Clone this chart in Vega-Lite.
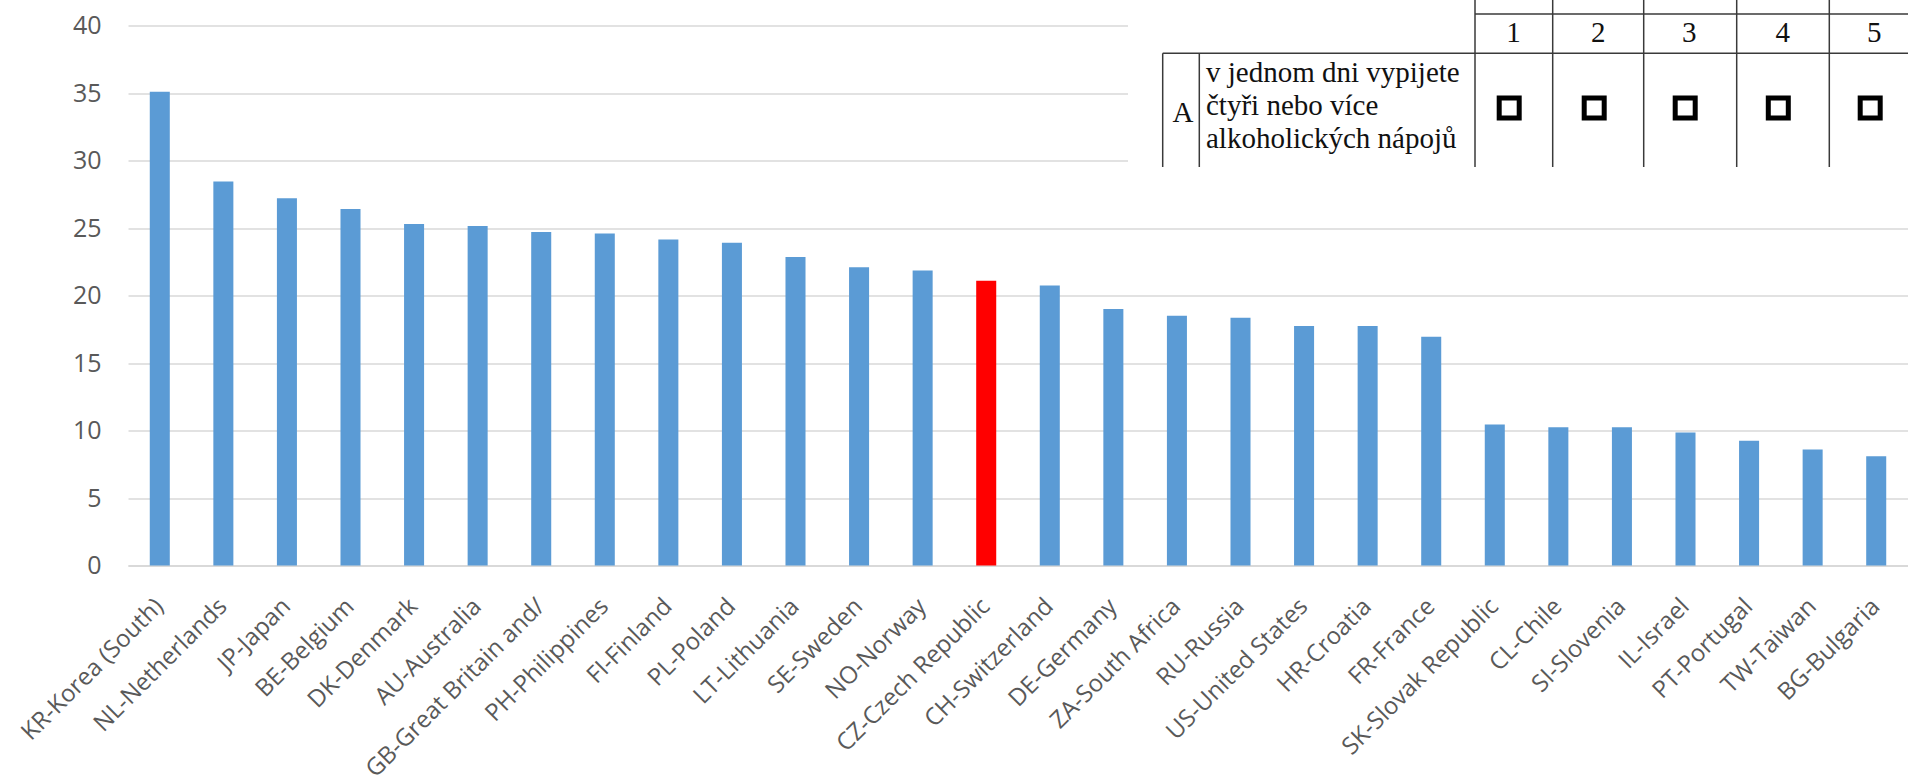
{
  "$schema": "https://vega.github.io/schema/vega-lite/v6.json",
  "width": 1780,
  "height": 540,
  "autosize": {"type": "none"},
  "padding": {"left": 128, "top": 25.5, "right": 0, "bottom": 210.5},
  "background": "white",
  "config": {"view": {"stroke": null}, "font": "Open Sans"},
  "datasets": {
    "countries": [
      {"country": "KR-Korea (South)", "value": 35.1},
      {"country": "NL-Netherlands", "value": 28.45},
      {"country": "JP-Japan", "value": 27.2},
      {"country": "BE-Belgium", "value": 26.4},
      {"country": "DK-Denmark", "value": 25.3},
      {"country": "AU-Australia", "value": 25.15},
      {"country": "GB-Great Britain and/", "value": 24.7},
      {"country": "PH-Philippines", "value": 24.6},
      {"country": "FI-Finland", "value": 24.15},
      {"country": "PL-Poland", "value": 23.9},
      {"country": "LT-Lithuania", "value": 22.85},
      {"country": "SE-Sweden", "value": 22.1},
      {"country": "NO-Norway", "value": 21.85},
      {"country": "CZ-Czech Republic", "value": 21.1},
      {"country": "CH-Switzerland", "value": 20.75},
      {"country": "DE-Germany", "value": 19.0},
      {"country": "ZA-South Africa", "value": 18.5},
      {"country": "RU-Russia", "value": 18.35},
      {"country": "US-United States", "value": 17.75},
      {"country": "HR-Croatia", "value": 17.75},
      {"country": "FR-France", "value": 16.95},
      {"country": "SK-Slovak Republic", "value": 10.45},
      {"country": "CL-Chile", "value": 10.25},
      {"country": "SI-Slovenia", "value": 10.25},
      {"country": "IL-Israel", "value": 9.85},
      {"country": "PT-Portugal", "value": 9.25},
      {"country": "TW-Taiwan", "value": 8.6},
      {"country": "BG-Bulgaria", "value": 8.1}
    ],
    "tableBox": [{"left": 1128, "right": 1908, "top": 0, "bottom": 167}],
    "tableRules": [
      {"x1": 1475, "x2": 1908, "y1": 14, "y2": 14},
      {"x1": 1162.7, "x2": 1908, "y1": 53.3, "y2": 53.3},
      {"x1": 1162.7, "x2": 1162.7, "y1": 53.3, "y2": 167},
      {"x1": 1199.3, "x2": 1199.3, "y1": 53.3, "y2": 167},
      {"x1": 1475, "x2": 1475, "y1": 0, "y2": 167},
      {"x1": 1552.7, "x2": 1552.7, "y1": 0, "y2": 167},
      {"x1": 1643.7, "x2": 1643.7, "y1": 0, "y2": 167},
      {"x1": 1736.7, "x2": 1736.7, "y1": 0, "y2": 167},
      {"x1": 1829.3, "x2": 1829.3, "y1": 0, "y2": 167}
    ],
    "tableHeader": [
      {"label": "1", "x": 1513.5, "y": 41.7},
      {"label": "2", "x": 1598.3, "y": 41.7},
      {"label": "3", "x": 1689.3, "y": 41.7},
      {"label": "4", "x": 1782.7, "y": 41.7},
      {"label": "5", "x": 1874.3, "y": 41.7}
    ],
    "tableLetter": [{"label": "A", "x": 1183, "y": 121.7}],
    "tableQuestion": [
      {"line": "v jednom dni vypijete", "x": 1206, "y": 81.5},
      {"line": "čtyři nebo více", "x": 1206, "y": 114.8},
      {"line": "alkoholických nápojů", "x": 1206, "y": 148}
    ],
    "tableBoxes": [
      {"option": 1, "x": 1509.2, "y": 108},
      {"option": 2, "x": 1594.2, "y": 108},
      {"option": 3, "x": 1685.2, "y": 108},
      {"option": 4, "x": 1778.3, "y": 108},
      {"option": 5, "x": 1870.2, "y": 108}
    ]
  },
  "layer": [
    {
      "data": {"name": "countries"},
      "mark": {"type": "bar"},
      "encoding": {
        "x": {
          "field": "country",
          "type": "nominal",
          "sort": null,
          "scale": {"paddingInner": 0.685, "paddingOuter": 0.3425},
          "axis": {
            "title": null,
            "ticks": false,
            "domain": true,
            "domainColor": "#D9D9D9",
            "domainWidth": 2,
            "grid": false,
            "labelAngle": -45,
            "labelAlign": "right",
            "labelBaseline": "middle",
            "labelPadding": 37,
            "labelFontSize": 24,
            "labelColor": "#595959",
            "labelLimit": 0,
            "labelFont": "Open Sans"
          }
        },
        "y": {
          "field": "value",
          "type": "quantitative",
          "scale": {"domain": [0, 40], "nice": false},
          "axis": {
            "title": null,
            "values": [0, 5, 10, 15, 20, 25, 30, 35, 40],
            "ticks": false,
            "domain": false,
            "grid": true,
            "gridColor": "#D9D9D9",
            "gridWidth": 1.5,
            "labelPadding": 27,
            "labelFontSize": 25,
            "labelColor": "#595959",
            "labelFont": "Open Sans"
          }
        },
        "color": {
          "condition": {"test": "datum.country === 'CZ-Czech Republic'", "value": "#FF0000"},
          "value": "#5B9BD5"
        }
      }
    },
    {
      "layer": [
        {
          "data": {"name": "tableBox"},
          "mark": {"type": "rect", "fill": "white"},
          "encoding": {
            "x": {"field": "left", "type": "quantitative", "scale": {"domain": [128, 1908], "zero": false, "nice": false}, "axis": null},
            "x2": {"field": "right"},
            "y": {"field": "top", "type": "quantitative", "scale": {"domain": [25.5, 565.5], "reverse": true, "zero": false, "nice": false}, "axis": null},
            "y2": {"field": "bottom"}
          }
        },
        {
          "data": {"name": "tableRules"},
          "mark": {"type": "rule", "stroke": "#3a3a3a", "strokeWidth": 1.5},
          "encoding": {
            "x": {"field": "x1", "type": "quantitative", "axis": null},
            "x2": {"field": "x2"},
            "y": {"field": "y1", "type": "quantitative", "axis": null},
            "y2": {"field": "y2"}
          }
        },
        {
          "data": {"name": "tableHeader"},
          "mark": {"type": "text", "font": "Liberation Serif", "fontSize": 29, "fill": "#111111", "align": "center", "baseline": "alphabetic"},
          "encoding": {
            "x": {"field": "x", "type": "quantitative", "axis": null},
            "y": {"field": "y", "type": "quantitative", "axis": null},
            "text": {"field": "label"}
          }
        },
        {
          "data": {"name": "tableLetter"},
          "mark": {"type": "text", "font": "Liberation Serif", "fontSize": 29, "fill": "#111111", "align": "center", "baseline": "alphabetic"},
          "encoding": {
            "x": {"field": "x", "type": "quantitative", "axis": null},
            "y": {"field": "y", "type": "quantitative", "axis": null},
            "text": {"field": "label"}
          }
        },
        {
          "data": {"name": "tableQuestion"},
          "mark": {"type": "text", "font": "Liberation Serif", "fontSize": 29, "fill": "#111111", "align": "left", "baseline": "alphabetic"},
          "encoding": {
            "x": {"field": "x", "type": "quantitative", "axis": null},
            "y": {"field": "y", "type": "quantitative", "axis": null},
            "text": {"field": "line"}
          }
        },
        {
          "data": {"name": "tableBoxes"},
          "mark": {"type": "point", "shape": "square", "filled": false, "stroke": "#000000", "strokeWidth": 5, "size": 400, "opacity": 1},
          "encoding": {
            "x": {"field": "x", "type": "quantitative", "axis": null},
            "y": {"field": "y", "type": "quantitative", "axis": null}
          }
        }
      ]
    }
  ],
  "resolve": {"scale": {"x": "independent", "y": "independent"}}
}
